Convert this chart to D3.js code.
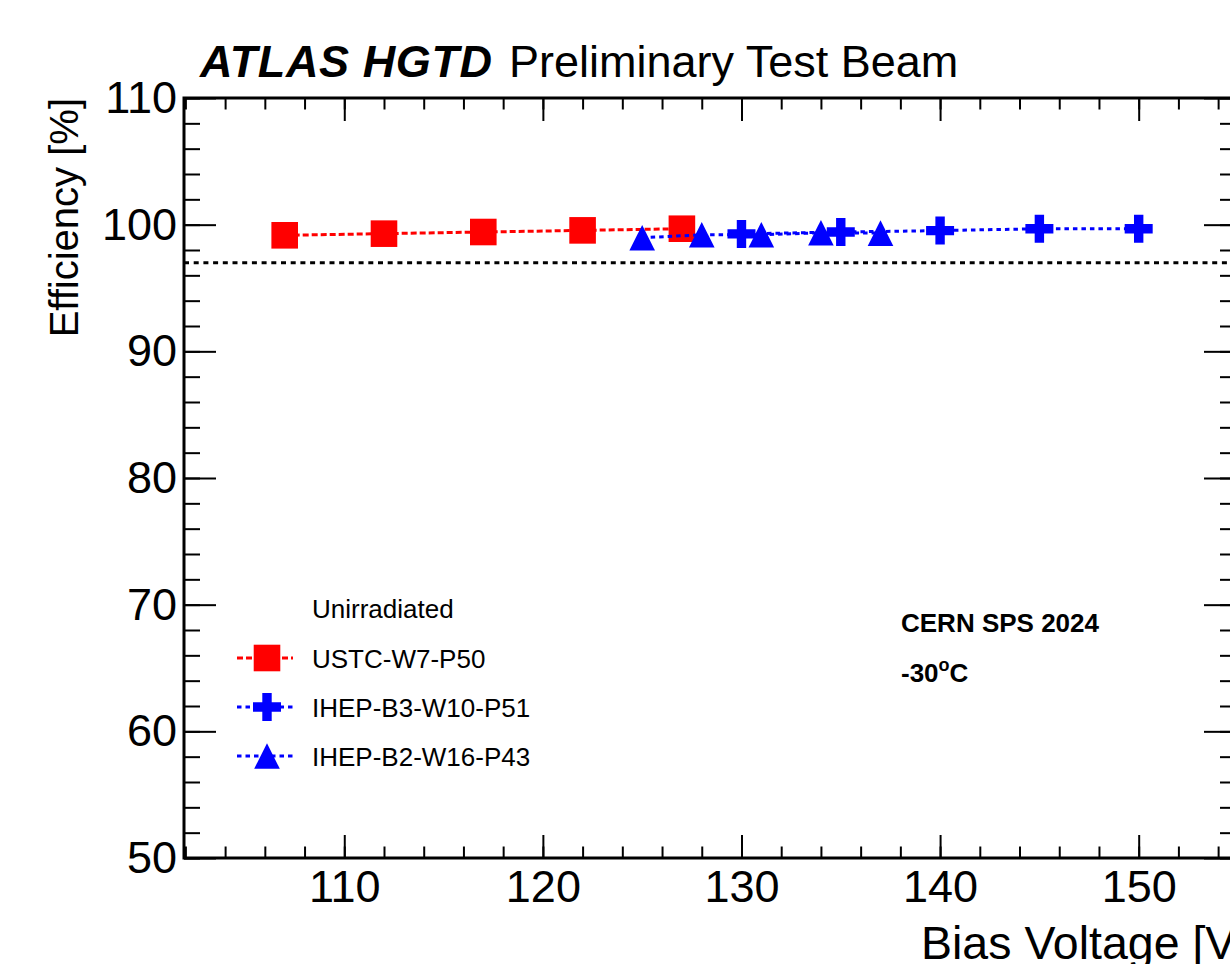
<!DOCTYPE html>
<html lang="en">
	<head>
		<meta charset="utf-8">
		<title>ATLAS HGTD efficiency vs bias voltage</title>
		<script type="text/javascript" src="https://cdn.jsdelivr.net/npm/d3@7"></script>
		<style type="text/css">
			body { margin: 0; background: white; }
			text { font-family: "Liberation Sans", Arial, sans-serif; fill: black; }
		</style>
	</head>
	<body>
		<script type="text/javascript">
			var w = 1230;
			var h = 964;

			// data
			var ustcVoltage = [107, 112, 117, 122, 127];
			var ustcEff = [99.16, 99.29, 99.42, 99.55, 99.68];

			var ihepB3Voltage = [130, 135, 140, 145, 150];
			var ihepB3Eff = [99.27, 99.42, 99.53, 99.68, 99.68];

			var ihepB2Voltage = [125, 128, 131, 134, 137];
			var ihepB2Eff = [98.97, 99.2, 99.2, 99.36, 99.33];

			var threshold = 97;

			var xTicks = [110, 120, 130, 140, 150];
			var yTicks = [50, 60, 70, 80, 90, 100, 110];

			var legendNames = ["USTC-W7-P50", "IHEP-B3-W10-P51", "IHEP-B2-W16-P43"];

			// frame (note: "top" is reserved in the browser, so prefix the names)
			var fLeft = 184, fRight = 1236, fTop = 98, fBottom = 858;

			var xScale = d3.scaleLinear().domain([101.93, 154.9]).range([fLeft, fRight]);
			var yScale = d3.scaleLinear().domain([50, 110]).range([fBottom, fTop]);

			var svg = d3.select("body").append("svg")
				.attr("width", w)
				.attr("height", h);

			// minor ticks every 2
			var xMinor = d3.range(102, 155, 2);
			var yMinor = d3.range(50, 111, 2);

			function styleAxis(g) {
				g.select(".domain").remove();
				g.selectAll("line").attr("stroke", "black").attr("stroke-width", 2);
				g.selectAll("text")
					.style("font-family", "Liberation Sans, Arial, sans-serif")
					.style("font-size", "45px")
					.attr("fill", "black");
			}

			// bottom
			svg.append("g").attr("transform", "translate(0," + fBottom + ")")
				.call(d3.axisBottom(xScale).tickValues(xMinor).tickSizeInner(-11.5).tickSizeOuter(0).tickFormat(""))
				.call(styleAxis);
			svg.append("g").attr("transform", "translate(0," + fBottom + ")")
				.call(d3.axisBottom(xScale).tickValues(xTicks).tickSizeInner(-23).tickSizeOuter(0).tickPadding(12).tickFormat(d3.format("d")))
				.call(styleAxis);
			// top
			svg.append("g").attr("transform", "translate(0," + fTop + ")")
				.call(d3.axisTop(xScale).tickValues(xMinor).tickSizeInner(-11.5).tickSizeOuter(0).tickFormat(""))
				.call(styleAxis);
			svg.append("g").attr("transform", "translate(0," + fTop + ")")
				.call(d3.axisTop(xScale).tickValues(xTicks).tickSizeInner(-23).tickSizeOuter(0).tickFormat(""))
				.call(styleAxis);
			// left
			svg.append("g").attr("transform", "translate(" + fLeft + ",0)")
				.call(d3.axisLeft(yScale).tickValues(yMinor).tickSizeInner(-16).tickSizeOuter(0).tickFormat(""))
				.call(styleAxis);
			svg.append("g").attr("transform", "translate(" + fLeft + ",0)")
				.call(d3.axisLeft(yScale).tickValues(yTicks).tickSizeInner(-32).tickSizeOuter(0).tickPadding(7).tickFormat(d3.format("d")))
				.call(styleAxis);
			// right
			svg.append("g").attr("transform", "translate(" + fRight + ",0)")
				.call(d3.axisRight(yScale).tickValues(yMinor).tickSizeInner(-16).tickSizeOuter(0).tickFormat(""))
				.call(styleAxis);
			svg.append("g").attr("transform", "translate(" + fRight + ",0)")
				.call(d3.axisRight(yScale).tickValues(yTicks).tickSizeInner(-32).tickSizeOuter(0).tickFormat(""))
				.call(styleAxis);

			svg.append("rect")
				.attr("x", fLeft).attr("y", fTop)
				.attr("width", fRight - fLeft).attr("height", fBottom - fTop)
				.attr("fill", "none").attr("stroke", "black").attr("stroke-width", 3);

			// 97% reference line
			svg.append("line")
				.attr("x1", fLeft).attr("x2", fRight)
				.attr("y1", yScale(threshold)).attr("y2", yScale(threshold))
				.attr("stroke", "black").attr("stroke-width", 3)
				.attr("stroke-dasharray", "5,4.7");

			var series = [
				{ name: legendNames[0], v: ustcVoltage, e: ustcEff, color: "#ff0000", marker: "square", dash: "6,3" },
				{ name: legendNames[1], v: ihepB3Voltage, e: ihepB3Eff, color: "#0000ff", marker: "cross", dash: "4.5,4" },
				{ name: legendNames[2], v: ihepB2Voltage, e: ihepB2Eff, color: "#0000ff", marker: "triangle", dash: "4.5,4" }
			];

			function markerPath(type) {
				if (type == "square") {
					var s = 13.3;
					return "M" + (-s) + "," + (-s) + "H" + s + "V" + s + "H" + (-s) + "Z";
				}
				if (type == "cross") {
					var a = 14, b = 4.7;
					return "M" + (-b) + "," + (-a) + "H" + b + "V" + (-b) + "H" + a + "V" + b + "H" + b + "V" + a +
						"H" + (-b) + "V" + b + "H" + (-a) + "V" + (-b) + "H" + (-b) + "Z";
				}
				// triangle up
				var r = 12.8;
				return "M0," + (-r) + "L" + r + "," + r + "L" + (-r) + "," + r + "Z";
			}

			var line = d3.line()
				.x(function(d) { return xScale(d[0]); })
				.y(function(d) { return yScale(d[1]); });

			// each series: line then markers
			series.forEach(function(s) {
				var pts = d3.zip(s.v, s.e);
				svg.append("path")
					.datum(pts)
					.attr("d", line)
					.attr("fill", "none")
					.attr("stroke", s.color)
					.attr("stroke-width", 3)
					.attr("stroke-dasharray", s.dash);
				svg.append("g").selectAll("path")
					.data(pts)
					.enter()
					.append("path")
					.attr("transform", function(d) { return "translate(" + xScale(d[0]) + "," + yScale(d[1]) + ")"; })
					.attr("d", markerPath(s.marker))
					.attr("fill", s.color);
			});

			// legend
			var legend = svg.append("g");
			legend.append("text")
				.attr("x", 312).attr("y", 618)
				.style("font-size", "26px")
				.text("Unirradiated");
			var rowY = [658, 707, 756];
			series.forEach(function(s, i) {
				var g = legend.append("g").attr("transform", "translate(0," + rowY[i] + ")");
				g.append("line")
					.attr("x1", 237).attr("x2", 293)
					.attr("stroke", s.color).attr("stroke-width", 3)
					.attr("stroke-dasharray", s.dash);
				g.append("path")
					.attr("transform", "translate(267,0)")
					.attr("d", markerPath(s.marker))
					.attr("fill", s.color);
				g.append("text")
					.attr("x", 312).attr("y", 10)
					.style("font-size", "26px")
					.text(s.name);
			});

			// annotations
			svg.append("text")
				.attr("x", 901).attr("y", 632)
				.style("font-size", "26px").style("font-weight", "bold")
				.text("CERN SPS 2024");
			var temp = svg.append("text")
				.attr("x", 901).attr("y", 682)
				.style("font-size", "26px").style("font-weight", "bold");
			temp.append("tspan").text("-30");
			temp.append("tspan").attr("dy", -11).style("font-size", "18px").text("o");
			temp.append("tspan").attr("dy", 11).text("C");

			// title
			svg.append("text")
				.attr("x", 200).attr("y", 77)
				.style("font-size", "45px").style("font-weight", "bold").style("font-style", "italic")
				.attr("textLength", 292)
				.text("ATLAS HGTD");
			svg.append("text")
				.attr("x", 509).attr("y", 77)
				.style("font-size", "45px")
				.text("Preliminary Test Beam");

			// axis titles (x title runs past the right edge, as in the original)
			svg.append("text")
				.attr("x", 921).attr("y", 959)
				.style("font-size", "46.5px")
				.text("Bias Voltage [V]");
			svg.append("text")
				.attr("transform", "translate(78," + fTop + ") rotate(-90)")
				.attr("text-anchor", "end")
				.style("font-size", "40px")
				.text("Efficiency [%]");
		</script>
	</body>
</html>
